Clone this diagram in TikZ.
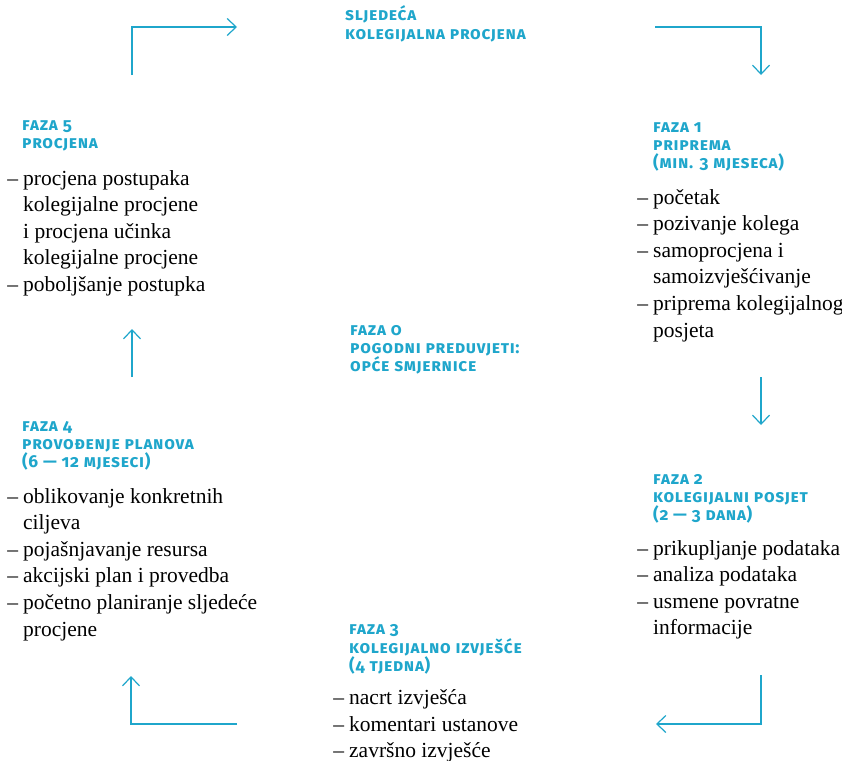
\documentclass[tikz,border=0pt]{standalone}
\usepackage{fontspec}
\setmainfont{Liberation Serif}
\newfontfamily\headfont[Letters=SmallCaps,Numbers=OldStyle,LetterSpace=4]{Fira Sans Bold}
\usetikzlibrary{arrows.meta}
\definecolor{fazablue}{RGB}{31,166,203}
\newcommand{\crtica}{\llap{–\hspace{5pt}}}
\tikzset{
  head/.style={anchor=north west, inner sep=0pt, align=left, text=fazablue,
    font=\headfont\fontsize{17.3}{18.3}\selectfont,
    execute at begin node={\rule{0pt}{14pt}}},
  items/.style={anchor=north west, inner sep=0pt, align=left,
    font=\fontsize{21.5}{26.6}\selectfont,
    execute at begin node={\rule{0pt}{18pt}}},
  flow/.style={color=fazablue, line width=1.2pt,
    -{Straight Barb[length=9pt,width=17pt]}}
}
\begin{document}
\begin{tikzpicture}[x=1pt,y=-1pt]
      \useasboundingbox (0,0) rectangle (842,760);
      %points
      \coordinate (p1) at (132,75);  \coordinate (p2) at (237,27);
      \coordinate (p3) at (655,27);  \coordinate (p4) at (761,75);
      \coordinate (p5) at (761,377); \coordinate (p6) at (761,425);
      \coordinate (p7) at (761,675); \coordinate (p8) at (656,724);
      \coordinate (p9) at (237,724); \coordinate (p10) at (131,676);
      \coordinate (p11) at (132,377); \coordinate (p12) at (132,329);
      %headings
      \node[head] (next) at (345,5.8) {sljedeća\\kolegijalna procjena};
      \node[head] (f1) at (653,122) {faza 1\\priprema\\(min. 3 mjeseca)};
      \node[head] (f5) at (22,120) {faza 5\\procjena};
      \node[head] (f0) at (350,325) {faza 0\\pogodni preduvjeti:\\opće smjernice};
      \node[head] (f4) at (22,421) {faza 4\\provođenje planova\\(6 — 12 mjeseci)};
      \node[head] (f2) at (653,474) {faza 2\\kolegijalni posjet\\(2 — 3 dana)};
      \node[head] (f3) at (349,624.5) {faza 3\\kolegijalno izvješće\\(4 tjedna)};
      %lists
      \node[items] (l1) at (653,189) {\crtica početak\\\crtica pozivanje kolega\\
        \crtica samoprocjena i\\samoizvješćivanje\\\crtica priprema kolegijalnog\\posjeta};
      \node[items] (l5) at (23,170) {\crtica procjena postupaka\\kolegijalne procjene\\
        i procjena učinka\\kolegijalne procjene\\\crtica poboljšanje postupka};
      \node[items] (l4) at (23,488) {\crtica oblikovanje konkretnih\\ciljeva\\
        \crtica pojašnjavanje resursa\\\crtica akcijski plan i provedba\\
        \crtica početno planiranje sljedeće\\procjene};
      \node[items] (l2) at (653,540) {\crtica prikupljanje podataka\\\crtica analiza podataka\\
        \crtica usmene povratne\\informacije};
      \node[items] (l3) at (349,689.5) {\crtica nacrt izvješća\\\crtica komentari ustanove\\
        \crtica završno izvješće};
      %arrows
      \draw[flow] (p1) |- (p2);
      \draw[flow] (p3) -| (p4);
      \draw[flow] (p5) -- (p6);
      \draw[flow] (p7) |- (p8);
      \draw[flow] (p9) -| (p10);
      \draw[flow] (p11) -- (p12);
    \end{tikzpicture}
\end{document}
